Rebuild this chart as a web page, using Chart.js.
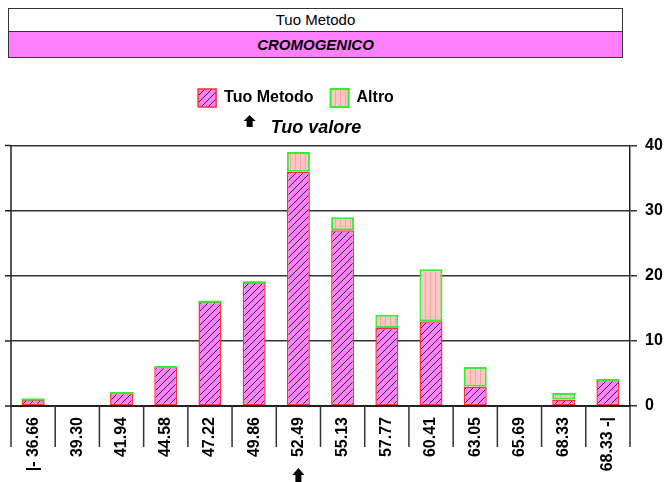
<!DOCTYPE html>
<html><head><meta charset="utf-8">
<script src="https://cdn.jsdelivr.net/npm/chart.js@4.4.1/dist/chart.umd.min.js"></script>
<style>
html,body{margin:0;padding:0;background:#fff;}
#wrap{position:relative;width:672px;height:482px;overflow:hidden;}
#c{position:absolute;left:0;top:0;}
#hdr{position:absolute;left:8px;top:8px;width:613px;border:1px solid #333;font-family:"Liberation Sans",Arial,sans-serif;font-size:15px;color:#000;}
#hdr .r1{height:22px;line-height:22px;text-align:center;background:#fff;border-bottom:1px solid #333;}
#hdr .r2{height:25px;line-height:25px;text-align:center;background:#FF80FF;font-weight:bold;font-style:italic;}
</style></head>
<body><div id="wrap"><canvas id="c" width="672" height="482"></canvas>
<div id="hdr"><div class="r1">Tuo Metodo</div><div class="r2">CROMOGENICO</div></div></div>
<script>
// ---- data ----
const categories = ['|- 36.66','39.30','41.94','44.58','47.22','49.86','52.49','55.13','57.77','60.41','63.05','65.69','68.33','68.33 -|'];
const tuoMetodo = [1,0,2,6,16,19,36,27,12,13,3,0,1,4];
const altro     = [0,0,0,0,0,0,3,2,2,8,3,0,1,0];
const legendLabels = ['Tuo Metodo','Altro'];
const subtitleText = 'Tuo valore';
const yTicks = [0,10,20,30,40];
const yourValueIndex = 6;

// ---- layout constants ----
const legendCenterX = 296;
const subtitleCenterX = 316;
const FONT = '"Liberation Sans", Arial, sans-serif';

function makeHatch(){
  const c = document.createElement('canvas'); c.width = 7; c.height = 7;
  const g = c.getContext('2d');
  g.fillStyle = '#FF80FF'; g.fillRect(0,0,7,7);
  g.strokeStyle = '#2a2a2a'; g.lineWidth = 1;
  g.beginPath();
  g.moveTo(0,7); g.lineTo(7,0);
  g.moveTo(-1,1); g.lineTo(1,-1);
  g.moveTo(6,8); g.lineTo(8,6);
  g.stroke();
  return g.createPattern(c,'repeat');
}
function makeStripes(){
  const c = document.createElement('canvas'); c.width = 5; c.height = 5;
  const g = c.getContext('2d');
  g.fillStyle = '#FFC6C6'; g.fillRect(0,0,5,5);
  g.fillStyle = '#F7A4A4'; g.fillRect(0,0,1,5);
  return g.createPattern(c,'repeat');
}

function drawArrow(ctx, cx, top, w, h){
  ctx.save();
  ctx.fillStyle = '#000';
  ctx.beginPath();
  ctx.moveTo(cx, top);
  ctx.lineTo(cx + w/2, top + h*0.5);
  ctx.lineTo(cx + w/4, top + h*0.5);
  ctx.lineTo(cx + w/4, top + h);
  ctx.lineTo(cx - w/4, top + h);
  ctx.lineTo(cx - w/4, top + h*0.5);
  ctx.lineTo(cx - w/2, top + h*0.5);
  ctx.closePath();
  ctx.fill();
  ctx.restore();
}

const decor = {
  id: 'decor',
  afterLayout(chart){
    const lg = chart.legend;
    if (lg){ const d = (lg.left + lg.right)/2 - legendCenterX; lg.left -= d; lg.right -= d; }
    chart.boxes.forEach(b => {
      if (b !== lg && b.options && b.options.text === subtitleText){
        const d = (b.left + b.right)/2 - subtitleCenterX; b.left -= d; b.right -= d;
        chart.$subBox = b;
      }
    });
  },
  afterDraw(chart){
    const ctx = chart.ctx, ca = chart.chartArea;
    const xs = chart.scales.x, ys = chart.scales.y;
    const n = categories.length;
    const cw = (ca.right - ca.left) / n;
    ctx.save();
    // category separators below the axis
    ctx.strokeStyle = '#333'; ctx.lineWidth = 1.5;
    ctx.beginPath();
    for (let i = 0; i <= n; i++){
      const x = (i < n ? xs.getPixelForTick(i) - cw/2 : xs.getPixelForTick(n-1) + cw/2);
      ctx.moveTo(x, ca.bottom); ctx.lineTo(x, ca.bottom + 41);
    }
    ctx.stroke();
    // left axis line and ticks
    ctx.strokeStyle = '#222'; ctx.lineWidth = 1.5;
    ctx.beginPath();
    ctx.moveTo(ca.left, ca.top); ctx.lineTo(ca.left, ca.bottom);
    yTicks.forEach(v => { const y = ys.getPixelForValue(v); ctx.moveTo(ca.left - 6, y); ctx.lineTo(ca.left, y); });
    ctx.stroke();
    // green top edge where "Altro" is zero
    const meta = chart.getDatasetMeta(1);
    ctx.strokeStyle = '#33EE33'; ctx.lineWidth = 2;
    ctx.beginPath();
    altro.forEach((v, i) => {
      if (v === 0 && tuoMetodo[i] > 0){
        const el = meta.data[i];
        ctx.moveTo(el.x - el.width/2, el.y); ctx.lineTo(el.x + el.width/2, el.y);
      }
    });
    ctx.stroke();
    // "Tuo valore" arrow marker under category
    drawArrow(ctx, xs.getPixelForTick(yourValueIndex), ca.bottom + 62, 12, 14);
    // arrow beside subtitle
    const sb = chart.$subBox;
    if (sb){
      ctx.font = 'italic bold 18px ' + FONT;
      const tw = ctx.measureText(subtitleText).width;
      const cx = (sb.left + sb.right)/2 - tw/2 - 21;
      drawArrow(ctx, cx, sb.top - 2, 12, 12);
    }
    ctx.restore();
  }
};

new Chart(document.getElementById('c'), {
  type: 'bar',
  data: {
    labels: categories,
    datasets: [
      {label: legendLabels[0], data: tuoMetodo, backgroundColor: makeHatch(), borderColor: '#FF3030', borderWidth: 1.5, borderSkipped: false, stack: 's'},
      {label: legendLabels[1], data: altro, backgroundColor: makeStripes(), borderColor: '#33EE33', borderWidth: 2, borderSkipped: false, stack: 's'}
    ]
  },
  options: {
    responsive: false, animation: false, devicePixelRatio: 1,
    layout: {padding: {top: 72, left: 11, right: 0, bottom: 0}},
    datasets: {bar: {categoryPercentage: 1, barPercentage: 0.52}},
    scales: {
      x: {
        stacked: true,
        grid: {display: false, drawTicks: false},
        border: {display: true, color: '#222', width: 2},
        ticks: {autoSkip: false, maxRotation: 90, minRotation: 90, padding: 11, color: '#000', font: {family: FONT, size: 16, weight: 'bold'}},
        afterFit(s){ s.height = 76; }
      },
      y: {
        stacked: true, position: 'right', min: 0, max: 40,
        afterBuildTicks(s){ s.ticks = yTicks.map(v => ({value: v})); },
        ticks: {padding: 8, color: '#000', font: {family: FONT, size: 16, weight: 'bold'}},
        grid: {color: '#333', lineWidth: 1.5, tickLength: 7},
        border: {display: true, color: '#222', width: 1.5},
        afterFit(s){ s.width = 42; }
      }
    },
    plugins: {
      legend: {display: true, position: 'top', labels: {boxWidth: 18, boxHeight: 18, padding: 17, color: '#000', font: {family: FONT, size: 16, weight: 'bold'}}},
      subtitle: {display: true, text: subtitleText, weight: 500, color: '#000', font: {family: FONT, size: 18, weight: 'bold', style: 'italic'}, padding: {top: 0, bottom: 7}},
      tooltip: {enabled: false}
    }
  },
  plugins: [decor]
});
</script>
</body></html>
